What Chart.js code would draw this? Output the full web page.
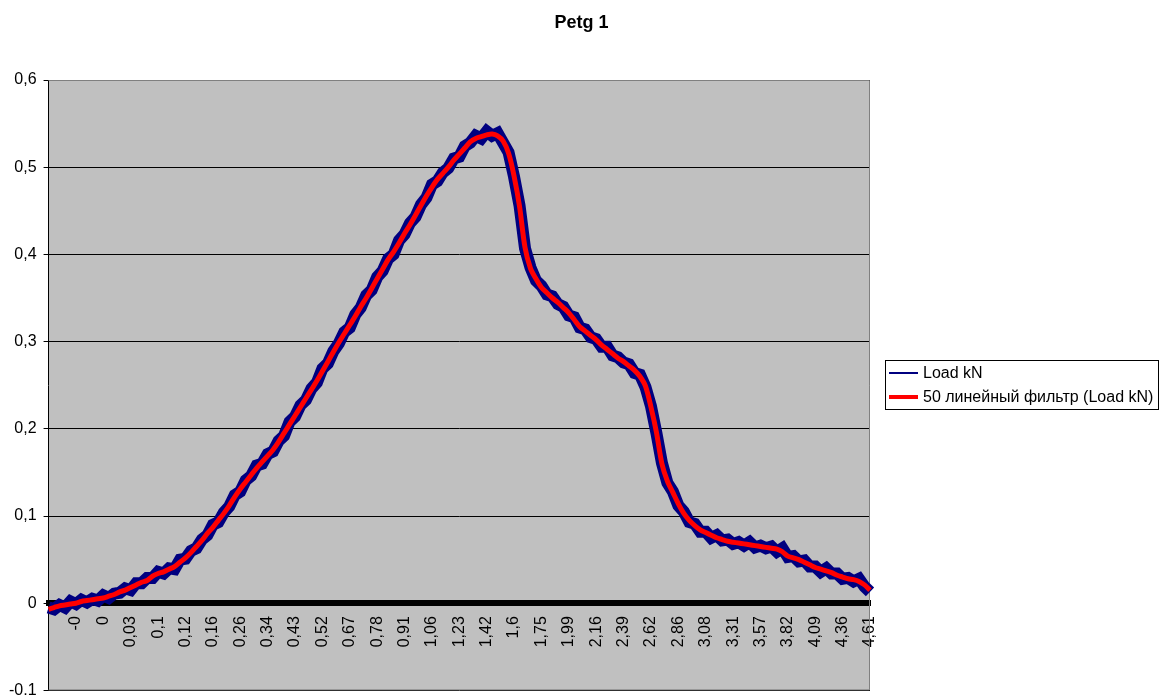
<!DOCTYPE html>
<html>
<head>
<meta charset="utf-8">
<title>Petg 1</title>
<script src="https://cdn.jsdelivr.net/npm/chart.js@4.4.1/dist/chart.umd.min.js"></script>
<style>
  html, body { margin: 0; padding: 0; background: #fff; overflow: hidden; }
  #wrap { width: 1163px; height: 707px; }
</style>
</head>
<body>
<div id="wrap"><canvas id="lineChart"></canvas></div>
<script>
var chartTitle = 'Petg 1';

// tick labels shown under the x axis, one every 5 samples
var xTickLabels = ['-0', '0', '0,03', '0,1', '0,12', '0,16', '0,26', '0,34', '0,43', '0,52',
  '0,67', '0,78', '0,91', '1,06', '1,23', '1,42', '1,6', '1,75', '1,99', '2,16',
  '2,39', '2,62', '2,86', '3,08', '3,31', '3,57', '3,82', '4,09', '4,36', '4,61'];
var samplesPerTick = 5;

var seriesNames = ['Load kN', '50 линейный фильтр (Load kN)'];

// raw signal (noisy)
var loadKN = [
  -0.005, -0.007, -0.002, -0.005, 0.002, -0.001, 0.004, 0.001, 0.005, 0.003,
  0.009, 0.006, 0.011, 0.012, 0.017, 0.015, 0.023, 0.023, 0.029, 0.029,
  0.036, 0.034, 0.040, 0.039, 0.050, 0.051, 0.060, 0.063, 0.073, 0.078,
  0.090, 0.093, 0.104, 0.111, 0.124, 0.128, 0.141, 0.146, 0.158, 0.160,
  0.171, 0.174, 0.186, 0.192, 0.208, 0.214, 0.227, 0.233, 0.246, 0.253,
  0.269, 0.275, 0.289, 0.298, 0.311, 0.316, 0.331, 0.339, 0.353, 0.359,
  0.374, 0.381, 0.395, 0.400, 0.416, 0.423, 0.436, 0.443, 0.457, 0.465,
  0.480, 0.484, 0.494, 0.499, 0.510, 0.512, 0.524, 0.528, 0.536, 0.533,
  0.541, 0.536, 0.539, 0.528, 0.517, 0.489, 0.456, 0.407, 0.385, 0.370,
  0.364, 0.354, 0.352, 0.343, 0.340, 0.330, 0.328, 0.316, 0.314, 0.305,
  0.303, 0.294, 0.294, 0.284, 0.282, 0.276, 0.274, 0.264, 0.262, 0.248,
  0.226, 0.195, 0.161, 0.138, 0.128, 0.112, 0.105, 0.093, 0.091, 0.082,
  0.082, 0.075, 0.078, 0.072, 0.073, 0.068, 0.070, 0.066, 0.070, 0.064,
  0.066, 0.063, 0.065, 0.059, 0.063, 0.053, 0.054, 0.048, 0.049, 0.042,
  0.042, 0.036, 0.040, 0.034, 0.034, 0.028, 0.029, 0.025, 0.028, 0.019,
  0.013
];

// 50-point moving average
var filter50 = [
  -0.007, -0.005, -0.003, -0.002, -0.001, 0.000, 0.002, 0.003, 0.004, 0.005,
  0.006, 0.008, 0.010, 0.013, 0.015, 0.018, 0.021, 0.024, 0.026, 0.031,
  0.034, 0.036, 0.039, 0.042, 0.047, 0.052, 0.058, 0.065, 0.072, 0.080,
  0.087, 0.095, 0.103, 0.112, 0.122, 0.131, 0.139, 0.147, 0.155, 0.162,
  0.169, 0.176, 0.185, 0.195, 0.205, 0.215, 0.225, 0.235, 0.245, 0.255,
  0.266, 0.277, 0.288, 0.299, 0.309, 0.319, 0.329, 0.340, 0.350, 0.361,
  0.372, 0.383, 0.394, 0.403, 0.413, 0.424, 0.434, 0.445, 0.456, 0.467,
  0.477, 0.486, 0.493, 0.500, 0.508, 0.515, 0.522, 0.529, 0.533, 0.535,
  0.537, 0.538, 0.536, 0.530, 0.516, 0.490, 0.455, 0.408, 0.384, 0.372,
  0.362, 0.356, 0.350, 0.345, 0.339, 0.333, 0.325, 0.317, 0.312, 0.307,
  0.302, 0.296, 0.291, 0.286, 0.281, 0.277, 0.272, 0.267, 0.260, 0.249,
  0.225, 0.196, 0.160, 0.140, 0.127, 0.114, 0.103, 0.095, 0.089, 0.084,
  0.081, 0.078, 0.075, 0.073, 0.071, 0.070, 0.069, 0.068, 0.067, 0.066,
  0.065, 0.064, 0.063, 0.062, 0.059, 0.054, 0.052, 0.050, 0.047, 0.044,
  0.041, 0.039, 0.037, 0.035, 0.032, 0.030, 0.028, 0.027, 0.025, 0.021,
  0.015
];

var labels = [];
for (var i = 0; i < loadKN.length; i++) {
  labels.push(i > 0 && i % samplesPerTick == 0 ? xTickLabels[i / samplesPerTick - 1] : '');
}

var FONT = 'Arial, "Liberation Sans", sans-serif';
Chart.defaults.font.family = FONT;
Chart.defaults.font.size = 16;
Chart.defaults.color = '#000';

// grey plot area + its frame (excel look)
var plotArea = {
  id: 'plotArea',
  beforeDraw: function(chart) {
    var a = chart.chartArea, ctx = chart.ctx;
    ctx.save();
    ctx.fillStyle = '#c0c0c0';
    ctx.fillRect(a.left, a.top, a.right - a.left, a.bottom - a.top);
    ctx.restore();
  },
  beforeDatasetsDraw: function(chart) {
    var a = chart.chartArea, ctx = chart.ctx;
    ctx.save();
    ctx.strokeStyle = '#808080';
    ctx.lineWidth = 1;
    ctx.beginPath();
    ctx.moveTo(a.left, a.top + 0.5);
    ctx.lineTo(a.right - 0.5, a.top + 0.5);
    ctx.lineTo(a.right - 0.5, a.bottom - 0.5);
    ctx.lineTo(a.left, a.bottom - 0.5);
    ctx.stroke();
    ctx.restore();
  }
};

// title centred on the whole canvas + boxed legend on the right
var titleAndLegend = {
  id: 'titleAndLegend',
  afterDraw: function(chart) {
    var a = chart.chartArea, ctx = chart.ctx;
    ctx.save();
    ctx.fillStyle = '#000';
    ctx.textAlign = 'center';
    ctx.textBaseline = 'middle';
    ctx.font = 'bold 18px ' + FONT;
    ctx.fillText(chartTitle, chart.width / 2, 23);

    var left = Math.round(a.right) + 15;
    var top = Math.round((a.top + a.bottom) / 2) - 25;
    ctx.strokeStyle = '#000';
    ctx.lineWidth = 1;
    ctx.strokeRect(left + 0.5, top + 0.5, 273, 49);
    ctx.font = '16px ' + FONT;
    ctx.textAlign = 'left';
    chart.data.datasets.forEach(function(ds, k) {
      var y = top + 13 + k * 24;
      ctx.strokeStyle = ds.borderColor;
      ctx.lineWidth = ds.legendWidth;
      ctx.beginPath();
      ctx.moveTo(left + 4, y);
      ctx.lineTo(left + 33, y);
      ctx.stroke();
      ctx.fillText(ds.label, left + 38, y + 1);
    });
    ctx.restore();
  }
};

const CHART = document.getElementById('lineChart');
var lineChart = new Chart(CHART, {
  type: 'line',
  data: {
    labels: labels,
    datasets: [{
      label: seriesNames[0],
      data: loadKN,
      borderColor: '#000080',
      backgroundColor: '#000080',
      borderWidth: 12,
      legendWidth: 2,
      pointRadius: 0,
      tension: 0,
      order: 1
    }, {
      label: seriesNames[1],
      data: filter50,
      borderColor: '#ff0000',
      backgroundColor: '#ff0000',
      borderWidth: 5,
      legendWidth: 4,
      pointRadius: 0,
      tension: 0.3,
      order: 0
    }]
  },
  options: {
    responsive: true,
    maintainAspectRatio: false,
    animation: false,
    layout: { padding: { left: 2, right: 293, top: 80, bottom: 10 } },
    plugins: {
      legend: { display: false },
      tooltip: { enabled: false },
      title: { display: false }
    },
    scales: {
      x: {
        type: 'category',
        position: { y: 0 },
        grid: { display: false, drawTicks: false },
        border: { display: true, color: '#000', width: 6 },
        ticks: {
          autoSkip: false,
          minRotation: 90,
          maxRotation: 90,
          padding: 13,
          color: '#000',
          callback: function(v, idx) { return labels[idx]; }
        }
      },
      y: {
        min: -0.1,
        max: 0.6,
        grid: { color: '#000', tickColor: '#000', tickLength: 5 },
        border: { color: '#000', width: 1 },
        ticks: {
          stepSize: 0.1,
          padding: 7,
          color: '#000',
          callback: function(v) {
            if (Math.abs(v) < 1e-9) return '0';
            return v.toFixed(1).replace('.', ',');
          }
        }
      }
    }
  },
  plugins: [plotArea, titleAndLegend]
});
</script>
</body>
</html>
